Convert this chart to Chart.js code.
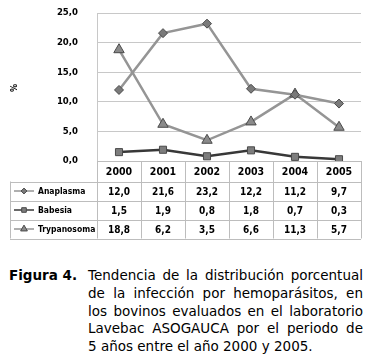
<!DOCTYPE html>
<html>
<head>
<meta charset="utf-8">
<script src="https://cdn.jsdelivr.net/npm/chart.js@4/dist/chart.umd.min.js"></script>
<style>
  html, body { margin: 0; padding: 0; background: #fff; }
  #wrap { position: relative; width: 375px; height: 357px; overflow: hidden; }
  #c { position: absolute; left: 0; top: 0; }
  #fig { position: absolute; left: 9px; top: 267px; font: bold 13.5px 'DejaVu Sans', Verdana, sans-serif; line-height: 17.75px; color: #000; }
  #cap { position: absolute; left: 88px; top: 267px; width: 275px; font: 13.5px 'DejaVu Sans', Verdana, sans-serif; line-height: 17.75px; color: #000; }
  #cap div { text-align: justify; text-align-last: justify; white-space: nowrap; }
  #cap div.last { text-align-last: left; }
</style>
</head>
<body>
<div id="wrap">
  <canvas id="c" width="375" height="245"></canvas>
  <div id="fig">Figura 4.</div>
  <div id="cap">
    <div>Tendencia de la distribución porcentual</div>
    <div>de la infección por hemoparásitos, en</div>
    <div>los bovinos evaluados en el laboratorio</div>
    <div>Lavebac ASOGAUCA por el periodo de</div>
    <div class="last">5 años entre el año 2000 y 2005.</div>
  </div>
</div>
<script>
const years = ['2000', '2001', '2002', '2003', '2004', '2005'];
const seriesNames = ['Anaplasma', 'Babesia', 'Trypanosoma'];
const anaplasma = [12.0, 21.6, 23.2, 12.2, 11.2, 9.7];
const babesia = [1.5, 1.9, 0.8, 1.8, 0.7, 0.3];
const trypanosoma = [18.8, 6.2, 3.5, 6.6, 11.3, 5.7];
const yMin = 0, yMax = 25, yStep = 5;
const yTitle = '%';

const FONT = "'Liberation Sans Narrow', 'DejaVu Sans Condensed', Arial, sans-serif";
const fmt = v => v.toFixed(1).replace('.', ',');

const styles = [
  { line: '#959595', fill: '#7a7a7a', border: '#4a4a4a', shape: 'rectRot', r: 4.5 },
  { line: '#383838', fill: '#7d7d7d', border: '#4a4a4a', shape: 'rect', r: 5 },
  { line: '#959595', fill: '#8a8a8a', border: '#4a4a4a', shape: 'triangle', r: 6 }
];
const allData = [anaplasma, babesia, trypanosoma];

const tablePlugin = {
  id: 'tablePlugin',
  afterDraw(chart) {
    const ctx = chart.ctx;
    const x = chart.scales.x, ca = chart.chartArea;
    const n = years.length;
    const w = (ca.right - ca.left) / n;
    const top = ca.bottom, rowH = 19, headH = 20.5;
    const rowsTop = top + headH;
    const bottom = rowsTop + rowH * 3;
    const leftCol = 10;
    ctx.save();
    ctx.strokeStyle = '#bdbdbd';
    ctx.lineWidth = 1;
    ctx.beginPath();
    ctx.moveTo(ca.left, Math.round(top) + 0.5); ctx.lineTo(ca.right, Math.round(top) + 0.5);
    for (let r = 0; r <= 3; r++) {
      const yy = Math.round(rowsTop + r * rowH) + 0.5;
      ctx.moveTo(leftCol, yy); ctx.lineTo(ca.right, yy);
    }
    for (let i = 0; i <= n; i++) {
      const xx = Math.round(ca.left + i * w) + 0.5;
      ctx.moveTo(xx, top); ctx.lineTo(xx, bottom);
    }
    ctx.moveTo(leftCol + 0.5, rowsTop); ctx.lineTo(leftCol + 0.5, bottom);
    ctx.stroke();
    ctx.fillStyle = '#000';
    ctx.textAlign = 'center';
    ctx.textBaseline = 'middle';
    ctx.font = 'bold 10.5px ' + FONT;
    years.forEach((yr, i) => ctx.fillText(yr, x.getPixelForValue(i), top + headH / 2 + 1));
    allData.forEach((arr, r) => {
      const cy = rowsTop + r * rowH + rowH / 2 + 1;
      ctx.fillStyle = '#000';
      ctx.textAlign = 'center';
      ctx.font = 'bold 10px ' + FONT;
      arr.forEach((v, i) => ctx.fillText(fmt(v), x.getPixelForValue(i), cy));
      const st = styles[r];
      ctx.strokeStyle = st.line;
      ctx.lineWidth = 1.5;
      ctx.beginPath(); ctx.moveTo(14, cy - 1); ctx.lineTo(34, cy - 1); ctx.stroke();
      ctx.fillStyle = st.fill; ctx.strokeStyle = st.border; ctx.lineWidth = 1;
      Chart.helpers.drawPoint(ctx, { pointStyle: st.shape, radius: st.r * 0.65, borderWidth: 1 }, 24, cy - 1);
      ctx.fillStyle = '#000';
      ctx.textAlign = 'left';
      ctx.font = 'bold 8.5px ' + FONT;
      ctx.fillText(seriesNames[r], 38, cy);
    });
    ctx.save();
    ctx.translate(15, 88);
    ctx.rotate(-Math.PI / 2);
    ctx.textAlign = 'center';
    ctx.font = 'bold 9px ' + FONT;
    ctx.fillText(yTitle, 0, 0);
    ctx.restore();
    ctx.restore();
  }
};

new Chart(document.getElementById('c'), {
  type: 'line',
  data: {
    labels: years,
    datasets: allData.map((arr, i) => ({
      label: seriesNames[i],
      data: arr,
      borderColor: styles[i].line,
      borderWidth: 2.5,
      pointStyle: styles[i].shape,
      pointRadius: styles[i].r,
      pointBackgroundColor: styles[i].fill,
      pointBorderColor: styles[i].border,
      pointBorderWidth: 1,
      tension: 0
    }))
  },
  options: {
    responsive: false,
    animation: false,
    events: [],
    layout: { padding: { left: 0, right: 14, top: 13, bottom: 84 } },
    plugins: { legend: { display: false }, tooltip: { enabled: false } },
    scales: {
      x: { type: 'category', offset: true, display: false },
      y: {
        min: yMin, max: yMax,
        afterFit(scale) { scale.width = 97; scale.paddingTop = 6; scale.paddingBottom = 6; },
        ticks: {
          stepSize: yStep,
          padding: 19,
          color: '#000',
          font: { family: FONT, size: 9.5, weight: 'bold' },
          callback: v => fmt(v)
        },
        grid: { color: '#c8c8c8', lineWidth: 1, drawTicks: false },
        border: { display: true, color: '#c8c8c8' }
      }
    }
  },
  plugins: [tablePlugin]
});
</script>
</body>
</html>
